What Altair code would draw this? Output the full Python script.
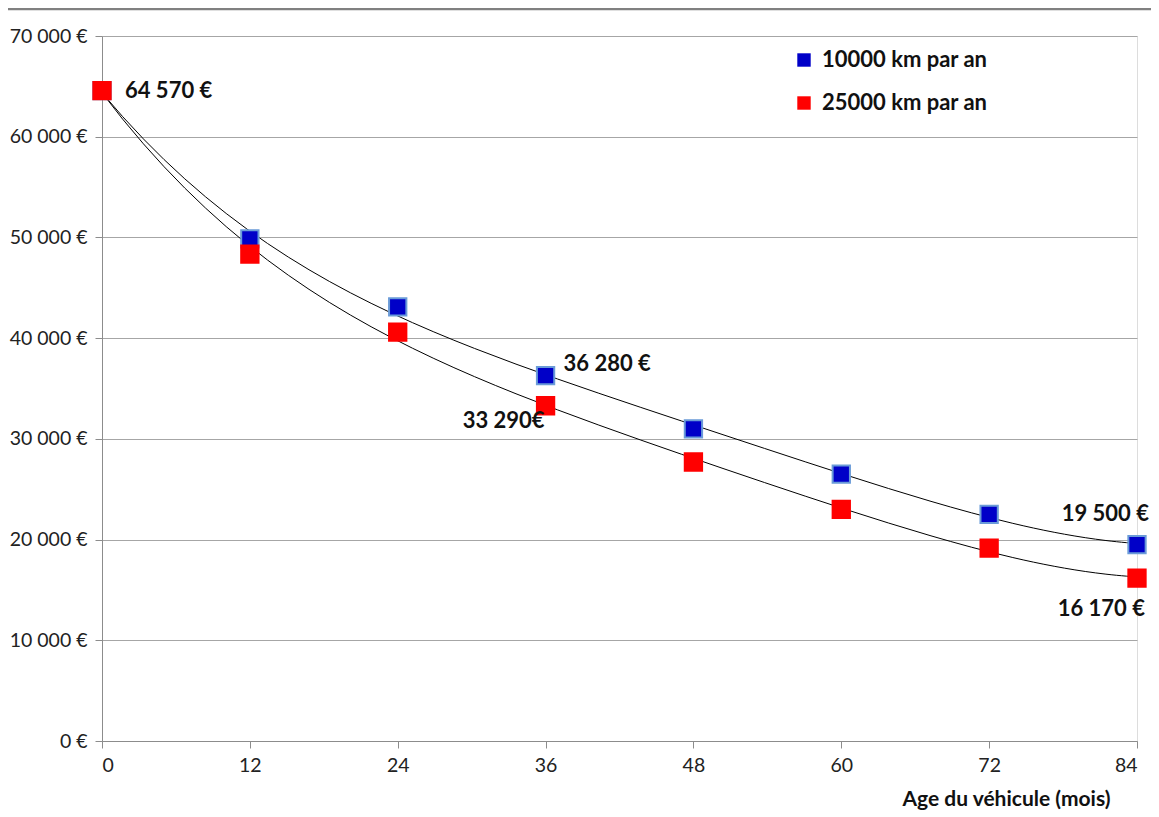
import altair as alt
import pandas as pd

months = [0, 12, 24, 36, 48, 60, 72, 84]
km10000 = [64570, 49850, 43100, 36280, 31000, 26500, 22500, 19500]
km25000 = [64570, 48350, 40600, 33290, 27700, 23000, 19150, 16170]
series_names = ["10000 km par an", "25000 km par an"]

rows = []
for m, v in zip(months, km10000):
    rows.append({"mois": m, "valeur": v, "serie": series_names[0]})
for m, v in zip(months, km25000):
    rows.append({"mois": m, "valeur": v, "serie": series_names[1]})
df = pd.DataFrame(rows)

label_text = ["64 570 €", "36 280 €", "33 290€", "19 500 €", "16 170 €"]
label_x = [0, 36, 36, 84, 84]
label_y = [64570, 36280, 33290, 19500, 16170]
label_style = [("left", 23, 0), ("left", 18, -12), ("right", -1, 15),
               ("right", 12, -31), ("right", 8, 31)]

FONT = "Lato"

x_enc = alt.X("mois:Q", scale=alt.Scale(domain=[0, 84], nice=False, zero=True),
              axis=alt.Axis(values=months, title="Age du véhicule (mois)",
                            titleAlign="right", titleAnchor="end", titleX=1008,
                            titleFontWeight="bold", titleFontSize=21, titlePadding=14,
                            labelFontSize=19.5, labelPadding=8, grid=False,
                            domainColor="#8c8c8c", tickColor="#8c8c8c", tickSize=7,
                            labelColor="#222222", titleColor="#111111"))
y_enc = alt.Y("valeur:Q", scale=alt.Scale(domain=[0, 70000], nice=False),
              axis=alt.Axis(values=list(range(0, 70001, 10000)), title=None,
                            labelExpr="replace(format(datum.value, ','), ',', ' ') + ' €'",
                            labelFontSize=19.5, labelPadding=8, gridColor="#a6a6a6",
                            domainColor="#8c8c8c", tickColor="#8c8c8c", tickSize=7,
                            labelColor="#222222"))

color_scale = alt.Scale(domain=series_names, range=["#0000c8", "#ff0000"])

trend = alt.Chart(df).transform_regression(
    "mois", "valeur", method="poly", order=4, groupby=["serie"]
).mark_line(color="black", strokeWidth=1).encode(
    x=x_enc, y=y_enc, detail="serie:N")

points = alt.Chart(df).mark_point(shape="square", filled=True, size=300, opacity=1,
                                  strokeWidth=2).encode(
    x=x_enc, y=y_enc,
    color=alt.Color("serie:N", scale=color_scale,
                    legend=alt.Legend(title=None, orient="none", legendX=691, legendY=13,
                                      symbolType="square", symbolSize=180,
                                      labelFontSize=22, labelFontWeight="bold",
                                      rowPadding=21, labelColor="#111111", labelLimit=400,
                                      labelOffset=7, symbolStrokeWidth=0)),
    stroke=alt.Stroke("serie:N", scale=alt.Scale(domain=series_names,
                                                  range=["#6a9bd8", "#ff0000"]),
                      legend=None),
    order=alt.Order("serie:N", sort="ascending"),
)

frame = alt.Chart(pd.DataFrame({"k": [0]})).mark_rule(color="#808080", strokeWidth=2.5).encode(
    x=alt.value(-94), x2=alt.value(1049), y=alt.value(-27))

layers = [frame, trend, points]
for t, xv, yv, (al, dx, dy) in zip(label_text, label_x, label_y, label_style):
    ldf = pd.DataFrame({"mois": [xv], "valeur": [yv], "txt": [t]})
    layers.append(alt.Chart(ldf).mark_text(align=al, baseline="middle", dx=dx, dy=dy,
                                           fontSize=22, fontWeight="bold", font=FONT,
                                           color="#111111").encode(
        x=alt.X("mois:Q"), y=alt.Y("valeur:Q"), text="txt:N"))

chart = alt.layer(*layers).properties(
    width=1035, height=705,
    autosize=alt.AutoSizeParams(type="none"),
    padding={"left": 94, "top": 28, "right": 14, "bottom": 74},
).configure_view(stroke=None).configure(font=FONT, background="white")

chart.save("out.html", embed_options={"renderer": "svg", "actions": False})
